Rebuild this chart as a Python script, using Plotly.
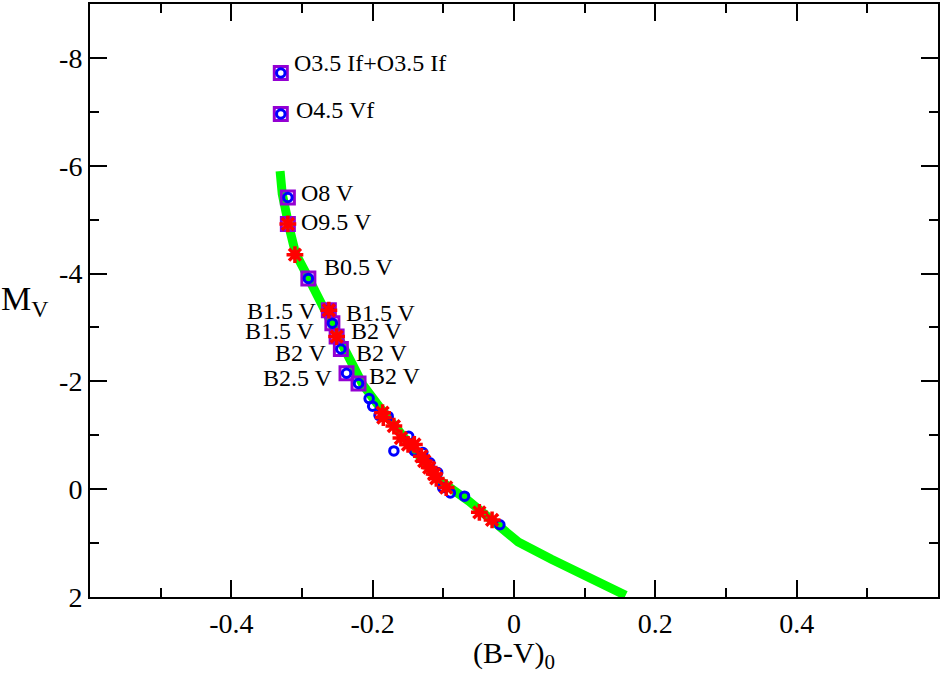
import plotly.graph_objects as go

# ZAMS curve (green)
zams_x = [-0.331, -0.331, -0.328, -0.318, -0.309, -0.294, -0.276, -0.262, -0.243, -0.228, -0.214,
          -0.190, -0.163, -0.135, -0.107, -0.064, -0.022, 0.006, 0.053, 0.101, 0.158]
zams_y = [-5.90, -5.72, -5.48, -4.85, -4.37, -4.00, -3.51, -3.16, -2.68, -2.30, -1.94,
          -1.52, -1.08, -0.64, -0.18, 0.22, 0.65, 0.98, 1.30, 1.60, 1.97]

# stars with spectral types (purple squares)
sq_x = [-0.330, -0.330, -0.320, -0.320, -0.291, -0.262, -0.257, -0.251, -0.245, -0.237, -0.220]
sq_y = [-7.72, -6.96, -5.41, -4.92, -3.91, -3.32, -3.08, -2.83, -2.60, -2.15, -1.96]
# which of them are blue circles / red stars underneath
sq_circle = [True, True, True, False, True, True, True, False, True, True, True]
sq_star = [False, False, False, True, False, True, False, True, False, False, False]

# blue open circles
bc_x = [-0.205, -0.200, -0.191, -0.178, -0.149, -0.141, -0.129, -0.170, -0.119,
        -0.108, -0.101, -0.090, -0.070, -0.020]
bc_y = [-1.68, -1.54, -1.37, -1.35, -0.98, -0.71, -0.68, -0.71, -0.49,
        -0.31, -0.03, 0.07, 0.13, 0.66]

# red asterisks
rs_x = [-0.310, -0.186, -0.185, -0.170, -0.160, -0.150, -0.141, -0.131, -0.127,
        -0.120, -0.113, -0.110, -0.096, -0.049, -0.031]
rs_y = [-4.35, -1.42, -1.33, -1.17, -0.95, -0.83, -0.83, -0.61, -0.52,
        -0.40, -0.28, -0.20, -0.03, 0.43, 0.57]

# spectral type labels
lab_text = ["O3.5 If+O3.5 If", "O4.5 Vf", "O8 V", "O9.5 V", "B0.5 V",
            "B1.5 V", "B1.5 V", "B1.5 V", "B2 V", "B2 V", "B2 V", "B2.5 V", "B2 V"]
lab_x = [-0.314, -0.311, -0.304, -0.304, -0.272,
         -0.276, -0.241, -0.279, -0.234, -0.262, -0.227, -0.253, -0.208]
lab_y = [-7.90, -7.04, -5.50, -4.96, -4.13,
         -3.30, -3.27, -2.93, -2.93, -2.53, -2.53, -2.07, -2.10]
lab_side = ["left", "left", "left", "left", "left",
            "right", "left", "right", "left", "right", "left", "right", "left"]

FONT = "Liberation Serif"
PURPLE = "#9400d3"
BLUE = "#0000ff"
RED = "#ff0000"

fig = go.Figure()

fig.add_trace(go.Scatter(x=zams_x, y=zams_y, mode="lines",
                         line=dict(color="#00ff00", width=9), showlegend=False))

fig.add_trace(go.Scatter(x=sq_x, y=sq_y, mode="markers", showlegend=False,
                         marker=dict(symbol="square-open", size=13, color=PURPLE,
                                     line=dict(color=PURPLE, width=3))))

cx = [x for x, c in zip(sq_x, sq_circle) if c] + bc_x
cy = [y for y, c in zip(sq_y, sq_circle) if c] + bc_y
fig.add_trace(go.Scatter(x=cx, y=cy, mode="markers", showlegend=False,
                         marker=dict(symbol="circle-open", size=8.5, color=BLUE,
                                     line=dict(color=BLUE, width=3))))

sx = [x for x, s in zip(sq_x, sq_star) if s] + rs_x
sy = [y for y, s in zip(sq_y, sq_star) if s] + rs_y
fig.add_trace(go.Scatter(x=sx, y=sy, mode="markers", showlegend=False,
                         marker=dict(symbol="asterisk-open", size=14, color=RED,
                                     line=dict(color=RED, width=3.5))))

for t, x, y, side in zip(lab_text, lab_x, lab_y, lab_side):
    fig.add_annotation(x=x, y=y, text=t, showarrow=False,
                       xanchor="right" if side == "right" else "left", yanchor="middle",
                       font=dict(family=FONT, size=24, color="black"))

# y axis title, horizontal like the original
fig.add_annotation(xref="paper", yref="paper", x=0, y=0.5, xshift=-40,
                   xanchor="right", yanchor="middle", showarrow=False,
                   text="M<sub>V</sub>", font=dict(family=FONT, size=34, color="black"))

axis_style = dict(showline=True, linecolor="black", linewidth=2, mirror="ticks",
                  ticks="inside", ticklen=17, tickwidth=1.5, tickcolor="black",
                  showgrid=False, zeroline=False,
                  tickfont=dict(family=FONT, size=28, color="black"))

fig.update_xaxes(range=[-0.6, 0.6], tickvals=[-0.4, -0.2, 0, 0.2, 0.4],
                 ticktext=["-0.4", "-0.2", "0", "0.2", "0.4"],
                 minor=dict(dtick=0.1, tick0=0, ticks="inside", ticklen=9,
                            tickwidth=1.5, tickcolor="black"),
                 title=dict(text="(B-V)<sub>0</sub>", standoff=2,
                            font=dict(family=FONT, size=30, color="black")),
                 **axis_style)
fig.update_yaxes(range=[2, -9], tickvals=[-8, -6, -4, -2, 0, 2],
                 ticktext=["-8", "-6", "-4", "-2", "0", "2"],
                 minor=dict(dtick=1, tick0=0, ticks="inside", ticklen=9,
                            tickwidth=1.5, tickcolor="black"),
                 **axis_style)

fig.update_layout(width=943, height=674, margin=dict(l=90, r=5, t=2, b=77),
                  plot_bgcolor="white", paper_bgcolor="white",
                  font=dict(family=FONT, color="black"))

# drop the browser's default body margin so the figure sits at the page corner
fig.write_html("out.html", config={"displayModeBar": False},
               post_script="document.body.style.margin='0';")
